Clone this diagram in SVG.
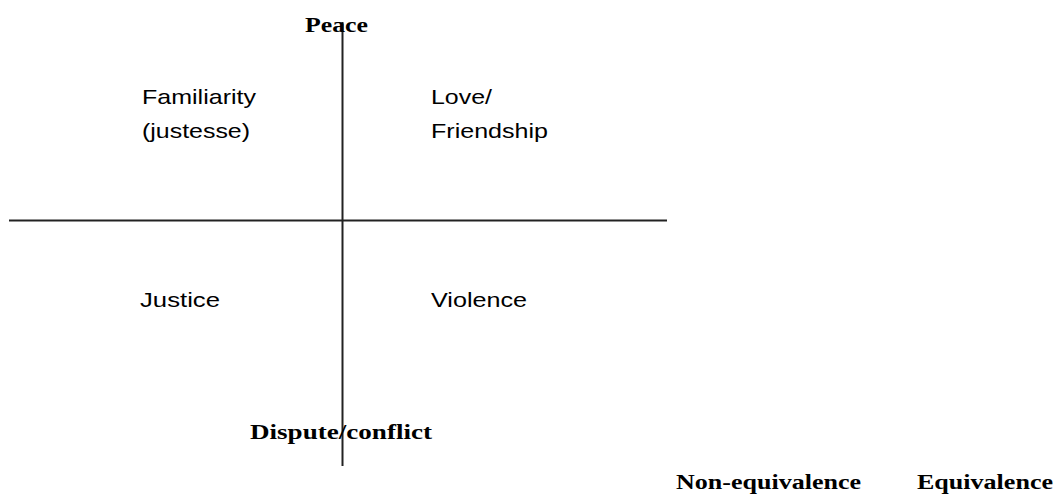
<svg xmlns="http://www.w3.org/2000/svg" width="1057" height="494" viewBox="0 0 1057 494">
<style>
.ax{stroke:#222;stroke-width:2;fill:none}
.lbl{font-family:"Liberation Sans",Arial,sans-serif;font-size:21px;fill:#000}
.b{font-family:"Liberation Serif","Times New Roman",serif;font-size:20px;font-weight:bold;fill:#000}
</style>
<rect width="1057" height="494" fill="#fff"/>
<g id="connectors">
<line class="ax" x1="342.5" y1="22" x2="342.5" y2="466"/>
<line class="ax" x1="9" y1="220.5" x2="667" y2="220.5"/>
</g>
<g id="peace"><text class="b" x="305" y="32" textLength="63" lengthAdjust="spacingAndGlyphs">Peace</text></g>
<g id="familiarity"><text class="lbl" x="142" y="104" textLength="114" lengthAdjust="spacingAndGlyphs">Familiarity</text><text class="lbl" x="142" y="138" textLength="108" lengthAdjust="spacingAndGlyphs">(justesse)</text></g>
<g id="love"><text class="lbl" x="431" y="104" textLength="61" lengthAdjust="spacingAndGlyphs">Love/</text><text class="lbl" x="431" y="138" textLength="117" lengthAdjust="spacingAndGlyphs">Friendship</text></g>
<g id="justice"><text class="lbl" x="140" y="307" textLength="80" lengthAdjust="spacingAndGlyphs">Justice</text></g>
<g id="violence"><text class="lbl" x="431" y="307" textLength="96" lengthAdjust="spacingAndGlyphs">Violence</text></g>
<g id="dispute"><text class="b" x="250" y="439" textLength="182" lengthAdjust="spacingAndGlyphs">Dispute/conflict</text></g>
<g id="nonequiv"><text class="b" x="676" y="489" textLength="185" lengthAdjust="spacingAndGlyphs">Non-equivalence</text></g>
<g id="equiv"><text class="b" x="917" y="489" textLength="136" lengthAdjust="spacingAndGlyphs">Equivalence</text></g>
</svg>
